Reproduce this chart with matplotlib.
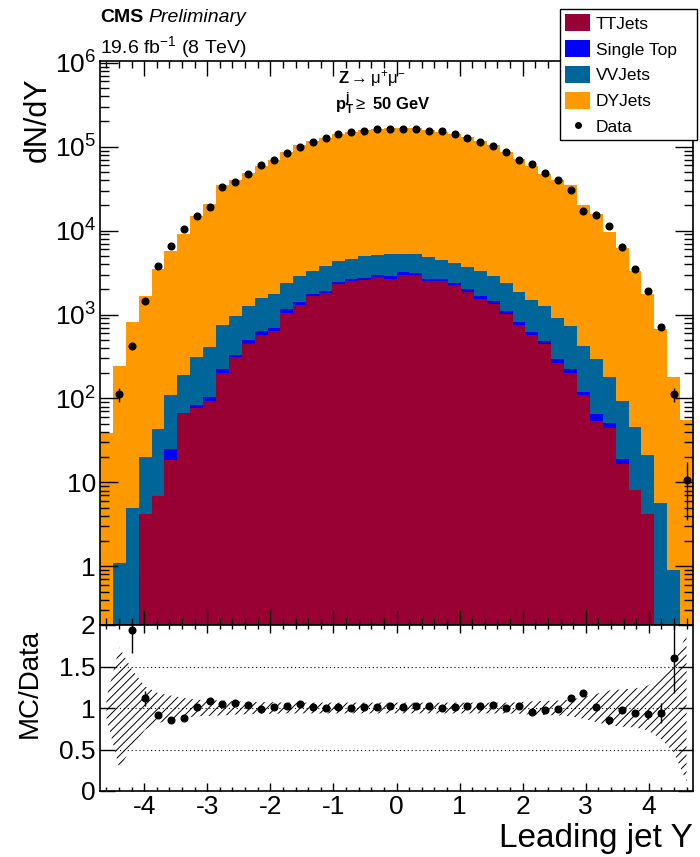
import numpy as np
import matplotlib
matplotlib.use("Agg")
import matplotlib.pyplot as plt
from matplotlib.patches import Patch
from matplotlib.lines import Line2D
from matplotlib.ticker import FixedLocator, LogLocator, MultipleLocator, NullFormatter, FuncFormatter

plt.rcParams['font.family'] = ['Liberation Sans', 'DejaVu Sans']
plt.rcParams['mathtext.fontset'] = 'custom'
plt.rcParams['mathtext.rm'] = 'Liberation Sans'
plt.rcParams['mathtext.it'] = 'Liberation Sans:italic'
plt.rcParams['mathtext.bf'] = 'Liberation Sans:bold'
plt.rcParams['axes.unicode_minus'] = False
plt.rcParams['hatch.linewidth'] = 0.7

# 46 bins in leading jet rapidity
edges = np.linspace(-4.7, 4.7, 47)
centers = 0.5 * (edges[1:] + edges[:-1])

tt = np.array([0, 0, 0, 4.2, 6.8, 18.3, 67, 78, 93, 202,
               313, 451, 578, 634, 1050, 1300, 1650, 1810, 2340, 2490,
               2560, 2780, 2680, 2990, 2940, 2490, 2510, 2230, 1860, 1550,
               1340, 1020, 760, 578, 448, 266, 202, 109, 54, 44,
               16.4, 8.1, 4.2, 0, 0, 0])
single_top = np.array([0, 0, 0, 0, 0, 6.4, 1, 5, 11, 23,
                       20, 52, 67, 49, 100, 125, 125, 120, 130, 165,
                       170, 150, 180, 190, 185, 170, 160, 150, 130, 115,
                       95, 80, 65, 45, 40, 30, 20, 10, 10.8, 6.4,
                       2.4, 0, 0, 0, 0, 0])
vv = np.array([0, 1.1, 4.9, 15.8, 36.8, 84, 125, 230, 308, 535,
               640, 777, 935, 1077, 1230, 1485, 1565, 1830, 1930, 1985,
               2220, 2150, 2360, 2100, 2155, 2160, 1850, 1740, 1700, 1615,
               1425, 1280, 1035, 887, 772, 616, 504, 301, 232, 129,
               74, 37.4, 17.3, 5.7, 0.9, 0])
dy = np.array([39, 246, 810, 1624, 3480, 5566, 8917, 14727, 20368, 33930,
               38887, 47020, 57460, 68470, 84120, 101890, 113060, 124740, 137800, 145960,
               152550, 157820, 163380, 161320, 160620, 153880, 146880, 137580, 127410, 114520,
               101740, 83120, 69840, 57460, 46170, 39100, 33894, 19570, 15283, 9451,
               6157, 3234, 1758, 668, 178, 55])
data = np.array([0, 112, 420, 1468, 3830, 6630, 10400, 14800, 19100, 33100,
                 37600, 46800, 60000, 69400, 84800, 100000, 115000, 128000, 140000, 150000,
                 155000, 161000, 164000, 164000, 162000, 155000, 152000, 140000, 128000, 115000,
                 101000, 85500, 70000, 62200, 48600, 40500, 30800, 17000, 15400, 11300,
                 6400, 3500, 1930, 720, 112, 10.6])
data_err = np.array([0, 20, 20, 0, 0, 0, 0, 0, 0, 0,
                     0, 0, 0, 0, 0, 0, 0, 0, 0, 0,
                     0, 0, 0, 0, 0, 0, 0, 0, 0, 0,
                     0, 0, 0, 0, 0, 0, 0, 0, 0, 0,
                     0, 0, 0, 0, 20, 7])
ratio_err = np.array([0, 0, 0.28, 0.09, 0, 0, 0, 0, 0, 0,
                      0, 0, 0, 0, 0, 0, 0, 0, 0, 0,
                      0, 0, 0, 0, 0, 0, 0, 0, 0, 0,
                      0, 0, 0, 0, 0, 0, 0, 0, 0, 0,
                      0, 0.03, 0.05, 0.12, 0.42, 0])
mc_unc = np.array([0.12, 0.73, 0.46, 0.26, 0.18, 0.15, 0.12, 0.10, 0.095, 0.09,
                   0.08, 0.075, 0.07, 0.07, 0.065, 0.065, 0.065, 0.065, 0.065, 0.065,
                   0.065, 0.065, 0.065, 0.065, 0.065, 0.065, 0.065, 0.065, 0.065, 0.065,
                   0.065, 0.065, 0.07, 0.08, 0.085, 0.09, 0.10, 0.13, 0.17, 0.21,
                   0.225, 0.235, 0.27, 0.37, 0.53, 0.89])

labels = ["TTJets", "Single Top", "VVJets", "DYJets"]
colors = ["#990033", "#0000ff", "#006699", "#ff9900"]

fig = plt.figure(figsize=(7.0, 8.57), dpi=100)
W, H = 700.0, 857.0
ax = fig.add_axes([100 / W, (H - 625) / H, 593 / W, 564 / H])
axr = fig.add_axes([100 / W, (H - 791) / H, 593 / W, 166 / H])

# stacked MC
lower = np.zeros_like(tt, dtype=float)
for comp, col in zip([tt, single_top, vv, dy], colors):
    upper = lower + comp
    ax.stairs(upper, edges, baseline=lower, fill=True, color=col, linewidth=0)
    lower = upper
mc_total = lower

m = data > 0
ax.errorbar(centers[m], data[m], yerr=data_err[m], fmt='o', color='k',
            ms=4.8, elinewidth=1.0, capsize=0)

ax.set_xlim(-4.7, 4.7)
ax.set_yscale('log')
ax.set_ylim(0.2, 1.05e6)
ax.xaxis.set_major_locator(MultipleLocator(1))
ax.xaxis.set_minor_locator(MultipleLocator(0.2))
ax.yaxis.set_major_locator(FixedLocator([1, 10, 1e2, 1e3, 1e4, 1e5, 1e6]))
ax.yaxis.set_minor_locator(LogLocator(base=10, subs=np.arange(2, 10), numticks=30))
ax.yaxis.set_minor_formatter(NullFormatter())


def log_label(v, pos):
    if v == 1:
        return "1"
    if v == 10:
        return "10"
    return r"$10^{%d}$" % int(round(np.log10(v)))


ax.yaxis.set_major_formatter(FuncFormatter(log_label))
ax.tick_params(axis='x', which='major', direction='in', length=11, width=1,
               top=True, labelbottom=False)
ax.tick_params(axis='x', which='minor', direction='in', length=5, width=1, top=True)
ax.tick_params(axis='y', which='major', direction='in', length=13, width=1,
               right=True, labelsize=19, pad=3)
ax.tick_params(axis='y', which='minor', direction='in', length=6.5, width=1, right=True)
for s in ax.spines.values():
    s.set_linewidth(1.2)

# ratio panel
ratio = np.full_like(mc_total, np.nan)
ratio[m] = mc_total[m] / data[m]
rm = m & (ratio < 2.0)
axr.fill_between(centers, 1 - mc_unc, 1 + mc_unc, facecolor='none',
                 edgecolor='black', hatch='////', linewidth=0)
for yv in (0.5, 1.0, 1.5):
    axr.axhline(yv, color='black', linestyle=(0, (1, 2.5)), linewidth=0.8)
axr.errorbar(centers[rm], ratio[rm], yerr=ratio_err[rm], fmt='o', color='k',
             ms=4.8, elinewidth=1.0, capsize=0)
axr.set_xlim(-4.7, 4.7)
axr.set_ylim(0, 2)
axr.xaxis.set_major_locator(MultipleLocator(1))
axr.xaxis.set_minor_locator(MultipleLocator(0.2))
axr.yaxis.set_major_locator(FixedLocator([0, 0.5, 1, 1.5, 2]))
axr.yaxis.set_major_formatter(FuncFormatter(lambda v, p: "%g" % v))
axr.tick_params(axis='x', which='major', direction='in', length=5.5, width=1,
                top=True, labelsize=19, pad=3)
axr.tick_params(axis='x', which='minor', direction='in', length=3, width=1, top=True)
axr.tick_params(axis='y', which='major', direction='in', length=11, width=1,
                right=True, labelsize=19, pad=3)
for s in axr.spines.values():
    s.set_linewidth(1.2)

# titles and labels
fig.text(100 / W, 1 - 17 / H, "CMS", fontsize=14, fontweight='bold', va='center')
fig.text(148 / W, 1 - 17 / H, "Preliminary", fontsize=14, style='italic', va='center')
fig.text(100 / W, 1 - 47 / H, r"19.6 fb$^{-1}$ (8 TeV)", fontsize=14, va='center')
fig.text(38 / W, 1 - 120 / H, "dN/dY", fontsize=22, rotation=90, ha='center', va='center')
fig.text(30 / W, 1 - 683 / H, "MC/Data", fontsize=20, rotation=90, ha='center', va='center')
fig.text(693 / W, 1 - 838 / H, "Leading jet Y", fontsize=24, ha='right', va='center')
fig.text(338 / W, 1 - 79 / H, r"$\mathbf{Z}\rightarrow\mathrm{μ}^{+}\mathrm{μ}^{-}$",
         fontsize=12, va='center')
fig.text(335 / W, 1 - 104 / H, r"$\mathbf{p}_{\mathbf{T}}^{\mathbf{j}}$$\geq$ 50 GeV",
         fontsize=12, fontweight='bold', va='center')

handles = [Patch(facecolor=c, edgecolor='none') for c in colors]
handles.append(Line2D([], [], marker='o', linestyle='none', color='k', ms=4))
leg = fig.legend(handles, labels + ["Data"], loc='upper left',
                 bbox_to_anchor=(560 / W, 1 - 149 / H, 137 / W, 140 / H),
                 mode='expand', fontsize=12.5, frameon=True, fancybox=False,
                 borderaxespad=0, borderpad=0.3, handlelength=1.45, handleheight=1.15,
                 handletextpad=0.3, labelspacing=0.48)
leg.get_frame().set_edgecolor('black')
leg.get_frame().set_linewidth(1.0)
leg.get_frame().set_alpha(1)

fig.savefig("out.png", dpi=100)
